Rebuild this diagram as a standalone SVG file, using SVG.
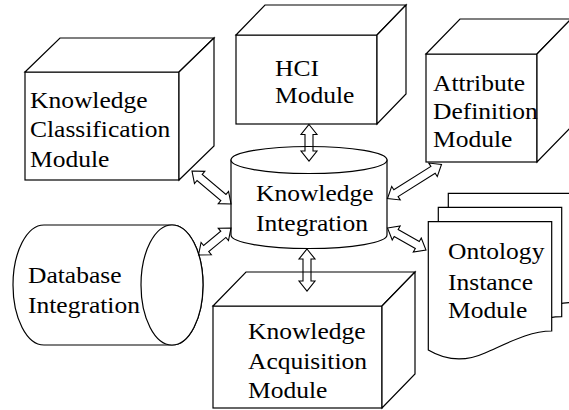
<svg xmlns="http://www.w3.org/2000/svg" width="569" height="410" viewBox="0 0 569 410">
<style>
.s{fill:#fff;stroke:#000;stroke-width:1.2;stroke-linejoin:miter}
.a{fill:none;stroke:#000;stroke-width:1.1}
.t{font-family:'Liberation Serif','Times New Roman',serif;font-size:23px;fill:#000}
</style>
<rect width="569" height="410" fill="#fff"/>
<g id="kc">
<rect class="s" x="25" y="72" width="154" height="108"/>
<polygon class="s" points="25,72 60,38 214,38 179,72"/>
<polygon class="s" points="179,72 214,38 214,146 179,180"/>
<g transform="translate(30,0) scale(1.11,1)"><text class="t"><tspan x="0" y="108">Knowledge</tspan><tspan x="0" y="137.5">Classification</tspan><tspan x="0" y="167">Module</tspan></text></g>
</g>
<g id="hci">
<rect class="s" x="236" y="35" width="141" height="89"/>
<polygon class="s" points="236,35 265,5 406,5 377,35"/>
<polygon class="s" points="377,35 406,5 406,94 377,124"/>
<g transform="translate(275,0) scale(1.11,1)"><text class="t"><tspan x="0" y="76">HCI</tspan><tspan x="0" y="103">Module</tspan></text></g>
</g>
<g id="ad">
<rect class="s" x="426" y="54" width="111" height="108"/>
<polygon class="s" points="426,54 460,19 571,19 537,54"/>
<polygon class="s" points="537,54 571,19 571,127 537,162"/>
<g transform="translate(433,0) scale(1.11,1)"><text class="t"><tspan x="0" y="91">Attribute</tspan><tspan x="0" y="119">Definition</tspan><tspan x="0" y="147">Module</tspan></text></g>
</g>
<g id="ki">
<path class="s" d="M231,160 V235 A78,13.5 0 0 0 387,235 V160 Z"/>
<ellipse class="s" cx="309" cy="160" rx="78" ry="13.5"/>
<g transform="translate(256,0) scale(1.11,1)"><text class="t"><tspan x="0" y="201.5">Knowledge</tspan><tspan x="0" y="231">Integration</tspan></text></g>
</g>
<g id="db">
<path class="s" d="M44,225 H172 A31,60 0 0 1 172,345 H44 A31,60 0 0 1 44,225 Z"/>
<ellipse class="s" cx="172" cy="285" rx="31" ry="60"/>
<g transform="translate(28,0) scale(1.11,1)"><text class="t"><tspan x="0" y="283">Database</tspan><tspan x="0" y="313">Integration</tspan></text></g>
</g>
<g id="ka">
<rect class="s" x="213" y="306" width="169" height="102"/>
<polygon class="s" points="213,306 246,272 415,272 382,306"/>
<polygon class="s" points="382,306 415,272 415,374 382,408"/>
<g transform="translate(248,0) scale(1.11,1)"><text class="t"><tspan x="0" y="339">Knowledge</tspan><tspan x="0" y="369">Acquisition</tspan><tspan x="0" y="398">Module</tspan></text></g>
</g>
<g id="oi">
<path class="s" transform="translate(20,-28.4)" d="M428.3,221.7 H551.7 V331 C530,331 510,342 485,353 C465,362 445,360 428.3,350 Z"/>
<path class="s" transform="translate(10,-14.4)" d="M428.3,221.7 H551.7 V331 C530,331 510,342 485,353 C465,362 445,360 428.3,350 Z"/>
<path class="s" d="M428.3,221.7 H551.7 V331 C530,331 510,342 485,353 C465,362 445,360 428.3,350 Z"/>
<g transform="translate(448,0) scale(1.11,1)"><text class="t"><tspan x="0" y="259">Ontology</tspan><tspan x="0" y="290">Instance</tspan><tspan x="0" y="318">Module</tspan></text></g>
</g>
<g id="connectors">
<polygon class="a" transform="translate(309,124.5) rotate(90)" points="0,0 10,-8 10,-4 26.5,-4 26.5,-8 36.5,0 26.5,8 26.5,4 10,4 10,8"/>
<polygon class="a" transform="translate(307,249) rotate(90)" points="0,0 10,-8 10,-4 32,-4 32,-8 42,0 32,8 32,4 10,4 10,8"/>
<polygon class="a" transform="translate(192,171) rotate(40.2)" points="0,0 10,-8 10,-4 41.1,-4 41.1,-8 51.1,0 41.1,8 41.1,4 10,4 10,8"/>
<polygon class="a" transform="translate(198.5,255) rotate(-39.7)" points="0,0 10,-8 10,-4 32.3,-4 32.3,-8 42.3,0 32.3,8 32.3,4 10,4 10,8"/>
<polygon class="a" transform="translate(387.5,198.5) rotate(-32.2)" points="0,0 10,-8 10,-4 53.8,-4 53.8,-8 63.8,0 53.8,8 53.8,4 10,4 10,8"/>
<polygon class="a" transform="translate(387.5,228) rotate(29.7)" points="0,0 10,-8 10,-4 34.3,-4 34.3,-8 44.3,0 34.3,8 34.3,4 10,4 10,8"/>
</g>
</svg>
